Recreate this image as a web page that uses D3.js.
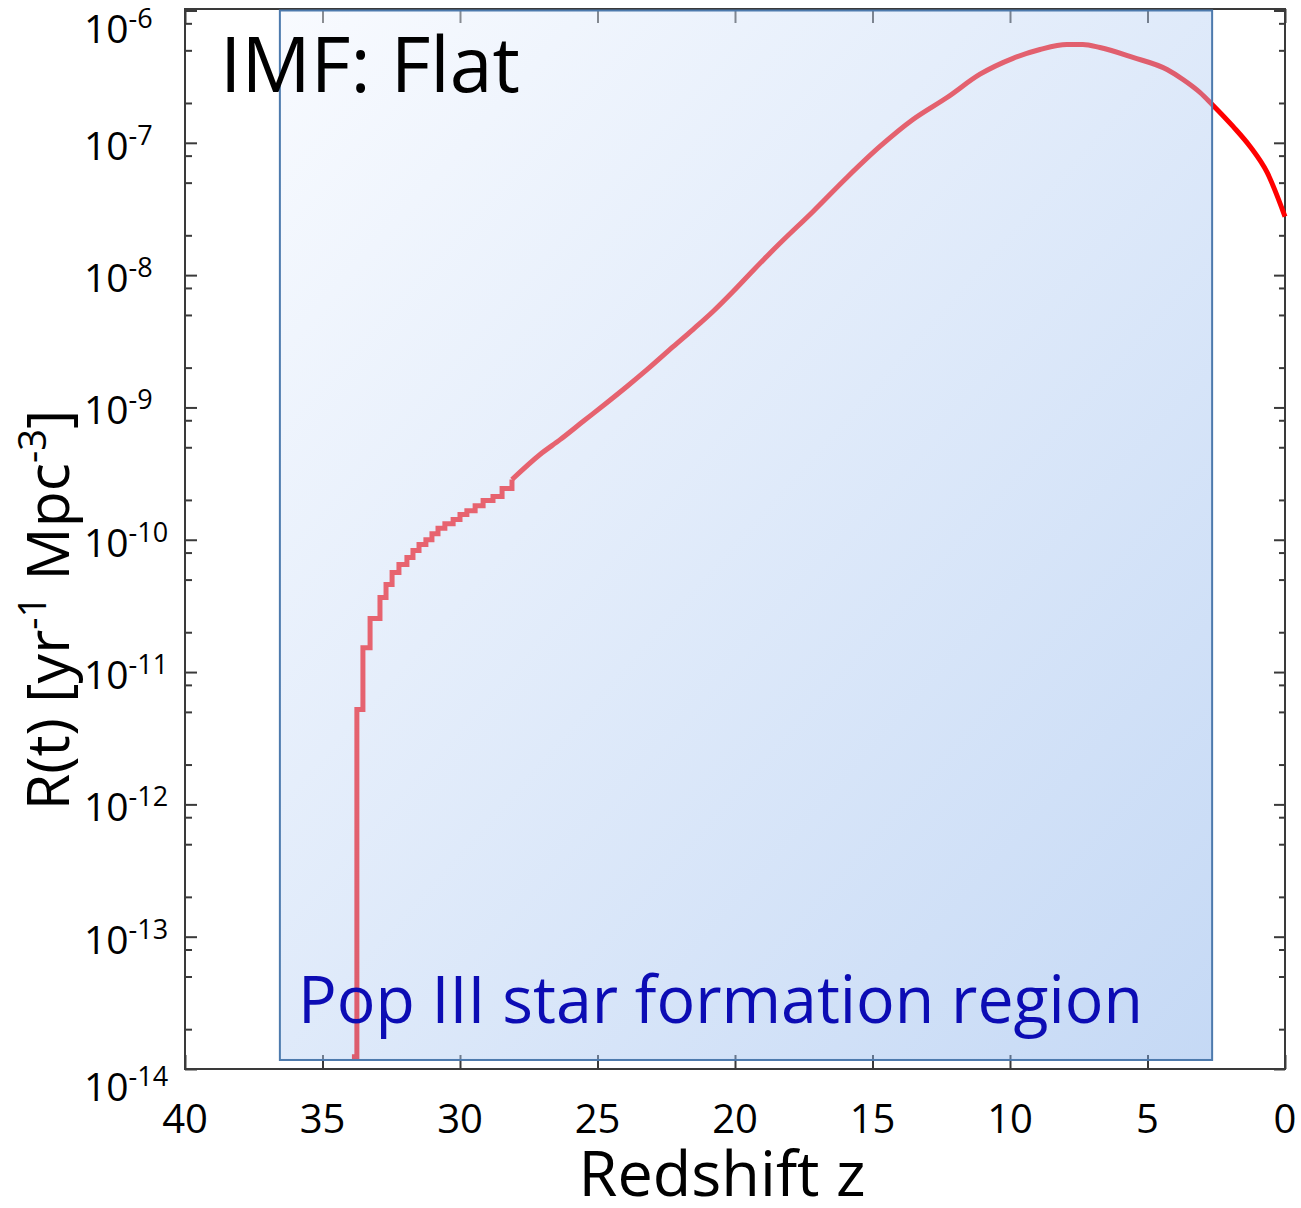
<!DOCTYPE html>
<html>
<head>
<meta charset="utf-8">
<script src="https://cdn.jsdelivr.net/npm/d3@7"></script>
<style>
body { margin: 0; background: #fff; }
text { font-family: "Open Sans", sans-serif; }
</style>
</head>
<body>
<svg id="chart" width="1301" height="1208"></svg>
<script>
// onset of the rate, drawn as steps (redshift, rate)
var stepZ = [33.93, 33.75, 33.53, 33.27, 32.91, 32.69, 32.47, 32.22, 31.93, 31.71, 31.49, 31.24,
             31.02, 30.80, 30.55, 30.25, 30.00, 29.75, 29.45, 29.16, 28.80, 28.47, 28.11];
var stepR = [1.24e-14, 5.21e-12, 1.53e-11, 2.54e-11, 3.66e-11, 4.58e-11, 5.65e-11, 6.50e-11, 7.33e-11,
             8.28e-11, 9.20e-11, 1.00e-10, 1.11e-10, 1.22e-10, 1.32e-10, 1.42e-10, 1.55e-10, 1.66e-10,
             1.81e-10, 1.98e-10, 2.12e-10, 2.44e-10, 2.85e-10];

// rest of the curve
var smoothZ = [28.11, 27.09, 26.36, 25.53, 24.65, 23.93, 23.20, 22.25, 21.53, 20.80, 20.07, 19.35, 18.44,
               17.16, 15.93, 14.73, 13.53, 12.29, 11.09, 9.89, 8.91, 7.93, 7.35, 6.73, 5.53, 4.29,
               3.71, 3.09, 2.65, 1.89, 1.27, 0.65, 0.00];
var smoothR = [2.85e-10, 4.41e-10, 5.71e-10, 7.82e-10, 1.09e-9, 1.44e-9, 1.93e-9, 2.88e-9, 3.88e-9,
               5.31e-9, 7.52e-9, 1.08e-8, 1.68e-8, 3.03e-8, 5.47e-8, 9.38e-8, 1.50e-7, 2.20e-7,
               3.30e-7, 4.35e-7, 5.07e-7, 5.53e-7, 5.53e-7, 5.25e-7, 4.42e-7, 3.58e-7, 3.01e-7,
               2.40e-7, 1.95e-7, 1.33e-7, 9.38e-8, 5.97e-8, 2.77e-8];

var xTicks = [40, 35, 30, 25, 20, 15, 10, 5, 0];
var yExponents = [-14, -13, -12, -11, -10, -9, -8, -7, -6];
var minorMult = [2, 5, 8];

// shaded Pop III region
var regionZ = [36.55, 2.65];
var regionR = [1.17e-14, 1e-6];

var svg = d3.select("#chart");
var pLeft = 185, pRight = 1285, pTop = 9, pBottom = 1069;

var x = d3.scaleLinear().domain([40, 0]).range([pLeft, pRight]);
var y = d3.scaleLog().domain([1e-14, 1e-6]).range([pBottom, 10.5]);

var defs = svg.append("defs");
var grad = defs.append("linearGradient").attr("id", "regionFill")
    .attr("x1", 0).attr("y1", 0).attr("x2", 1).attr("y2", 1);
grad.append("stop").attr("offset", "0%").attr("stop-color", "#f0f5fe");
grad.append("stop").attr("offset", "100%").attr("stop-color", "#7fabe9");

// minor/major tick values for the log axis
var majorVals = yExponents.map(function(e) { return Math.pow(10, e); });
var minorVals = [];
yExponents.slice(0, -1).forEach(function(e) {
    minorMult.forEach(function(m) { minorVals.push(m * Math.pow(10, e)); });
});

var axisColor = "#3a3a3a";

// y ticks, left and right, pointing inward
svg.append("g").attr("transform", "translate(" + pLeft + ",0)")
    .call(d3.axisLeft(y).tickValues(majorVals).tickSize(-12).tickFormat(""));
svg.append("g").attr("transform", "translate(" + pLeft + ",0)")
    .call(d3.axisLeft(y).tickValues(minorVals).tickSize(-7).tickFormat(""));
svg.append("g").attr("transform", "translate(" + pRight + ",0)")
    .call(d3.axisRight(y).tickValues(majorVals).tickSize(-11).tickFormat(""));
svg.append("g").attr("transform", "translate(" + pRight + ",0)")
    .call(d3.axisRight(y).tickValues(minorVals).tickSize(-6).tickFormat(""));

// x ticks, bottom and top
svg.append("g").attr("transform", "translate(0," + pBottom + ")")
    .call(d3.axisBottom(x).tickValues(xTicks).tickSize(-14).tickFormat(""));
svg.append("g").attr("transform", "translate(0," + pTop + ")")
    .call(d3.axisTop(x).tickValues(xTicks).tickSize(-14).tickFormat(""));

svg.selectAll(".domain").remove();
svg.selectAll(".tick line").attr("stroke", axisColor).attr("stroke-width", 2);

svg.append("rect")
    .attr("x", pLeft).attr("y", pTop)
    .attr("width", pRight - pLeft).attr("height", pBottom - pTop)
    .attr("fill", "none").attr("stroke", axisColor).attr("stroke-width", 2);

// curve
var lineStep = d3.line()
    .x(function(d) { return x(d[0]); })
    .y(function(d) { return y(d[1]); })
    .curve(d3.curveStepAfter);
var lineSmooth = d3.line()
    .x(function(d) { return x(d[0]); })
    .y(function(d) { return y(d[1]); })
    .curve(d3.curveMonotoneX);

svg.append("path")
    .datum(stepZ.map(function(z, i) { return [z, stepR[i]]; }))
    .attr("d", lineStep)
    .attr("fill", "none").attr("stroke", "#ff0000").attr("stroke-width", 5);
svg.append("path")
    .datum(smoothZ.map(function(z, i) { return [z, smoothR[i]]; }))
    .attr("d", lineSmooth)
    .attr("fill", "none").attr("stroke", "#ff0000").attr("stroke-width", 5)
    .attr("stroke-linejoin", "round");

// translucent region over the curve
svg.append("rect")
    .attr("x", x(regionZ[0])).attr("y", y(regionR[1]))
    .attr("width", x(regionZ[1]) - x(regionZ[0]))
    .attr("height", y(regionR[0]) - y(regionR[1]))
    .attr("fill", "url(#regionFill)").attr("fill-opacity", 0.45)
    .attr("stroke", "#4d7aad").attr("stroke-width", 2);

// y tick labels 10^n
yExponents.forEach(function(e, i) {
    var off = (i === 0 || i === yExponents.length - 1) ? 32 : 17;
    var t = svg.append("text")
        .attr("x", 84).attr("y", y(Math.pow(10, e)) + off)
        .attr("fill", "#000");
    t.append("tspan").attr("font-size", 39).text("10");
    t.append("tspan").attr("font-size", 27).attr("dy", -15).text("-" + Math.abs(e));
});

// x tick labels
svg.selectAll(".xlab").data(xTicks).enter().append("text")
    .attr("x", function(d) { return x(d); })
    .attr("y", 1133)
    .attr("text-anchor", "middle")
    .attr("font-size", 40)
    .text(function(d) { return d; });

// axis titles
svg.append("text")
    .attr("x", 722).attr("y", 1196)
    .attr("text-anchor", "middle").attr("font-size", 63)
    .text("Redshift z");

var yt = svg.append("text")
    .attr("transform", "translate(69,610) rotate(-90)")
    .attr("text-anchor", "middle").attr("font-size", 59);
yt.append("tspan").text("R(t) [yr");
yt.append("tspan").attr("font-size", 38).attr("dy", -23).text("-1");
yt.append("tspan").attr("dy", 23).text(" Mpc");
yt.append("tspan").attr("font-size", 38).attr("dy", -23).text("-3");
yt.append("tspan").attr("dy", 23).text("]");

// annotations
svg.append("text")
    .attr("x", 220).attr("y", 92)
    .attr("font-size", 76).attr("fill", "#000")
    .attr("textLength", 300).attr("lengthAdjust", "spacingAndGlyphs")
    .text("IMF: Flat");

svg.append("text")
    .attr("x", 298).attr("y", 1023)
    .attr("font-size", 66).attr("fill", "#0c0cb4")
    .attr("textLength", 845).attr("lengthAdjust", "spacingAndGlyphs")
    .text("Pop III star formation region");
</script>
</body>
</html>
